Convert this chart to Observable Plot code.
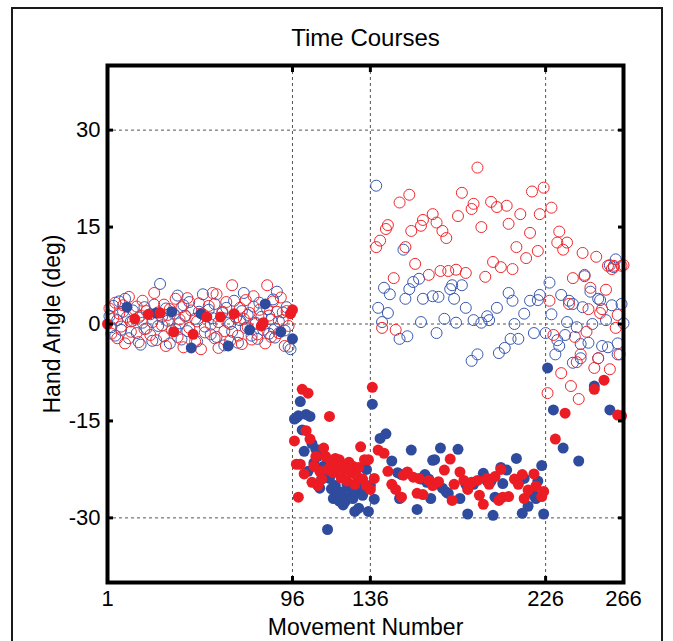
<!DOCTYPE html>
<html>
<head>
<meta charset="utf-8">
<script src="https://cdn.jsdelivr.net/npm/d3@7"></script>
<script src="https://cdn.jsdelivr.net/npm/@observablehq/plot@0.6"></script>
<style>
  html, body { margin: 0; padding: 0; background: #fff; overflow: hidden; }
  #wrap { position: relative; width: 673px; height: 641px; }
  #border { position: absolute; left: 11px; top: 7px; width: 652px; height: 700px; border: 2px solid #1a1a1a; box-sizing: border-box; }
  #chart { position: absolute; left: 0; top: 0; }
  svg { font-family: "Liberation Sans", Arial, Helvetica, sans-serif; }
</style>
</head>
<body>
<div id="wrap"><div id="border"></div><div id="chart"></div></div>
<script>
// ---- tick labels ----
const xTicks = [1, 96, 136, 226, 266];
const yTicks = [-30, -15, 0, 15, 30];
const xGrid = [96, 136, 226];
const yGrid = [-30, 0, 30];

// ---- series: [movement number, hand angle (deg)] ----
const blueOpen = [
  [2,1.2],[3,-0.5],[4,2.8],[5,-1.8],[6,0.6],[7,3.5],[8,-0.9],[9,1.9],[10,3.9],[12,-2.2],[13,0.4],[14,2.1],
  [16,-1.4],[17,1.0],[18,-3.2],[19,0.2],[20,2.6],[21,-0.7],[23,1.5],[24,-2.6],[25,3.0],[27,-0.3],[28,6.2],
  [29,1.1],[30,-1.9],[31,2.4],[32,0.5],[33,-3.0],[35,1.6],[36,-0.8],[37,4.4],[38,0.1],[39,-2.4],[40,2.9],
  [41,1.3],[42,-1.1],[43,3.4],[46,0.8],[47,-2.7],[48,1.9],[50,4.6],[51,-0.4],[53,2.2],[54,-1.6],[55,0.9],
  [56,3.1],[57,-2.0],[58,0.3],[60,1.7],[61,-3.3],[62,2.5],[64,0.0],[65,-1.2],[66,3.6],[67,1.0],[68,-2.9],
  [69,0.6],[70,2.0],[71,4.8],[72,-0.6],[73,1.4],[75,-1.8],[76,2.7],[77,0.2],[78,-2.3],[79,3.3],[80,1.1],
  [81,-0.9],[83,2.3],[84,-1.5],[85,0.7],[86,3.8],[87,-2.1],[88,5.0],[89,0.4],[91,1.8],[92,-1.0],[93,2.6],
  [94,-3.5],[95,-3.9],
  [139,21.4],[140,2.5],[142,0.3],[143,5.6],[145,1.7],[146,4.6],[151,-2.3],[153,11.5],[154,3.9],[155,-1.9],
  [156,5.4],[158,6.5],[161,7.0],[162,0.3],[163,3.9],[168,4.3],[170,-1.4],[171,4.2],[174,0.8],[177,5.4],
  [178,6.0],[179,3.9],[180,0.2],[183,6.0],[185,2.5],[188,-5.7],[189,0.6],[191,-4.7],[193,0.2],[196,1.2],
  [197,0.6],[201,2.5],[202,-4.5],[205,-3.7],[207,4.8],[208,-2.3],[209,3.6],[210,0.0],[212,-2.3],[215,1.6],
  [218,3.6],[220,-1.4],[222,3.7],[223,4.5],[226,-1.4],
  [228,6.4],[229,1.5],[231,-4.7],[232,-2.5],[233,-3.4],[234,4.5],[236,-1.7],[237,0.3],[238,3.6],[240,3.1],
  [240,-6.0],[242,-0.5],[244,-3.1],[244,-5.3],[245,2.6],[246,7.4],[248,-2.9],[249,5.0],[250,0.0],[253,3.9],
  [253,-5.3],[254,3.7],[255,-3.4],[257,0.6],[258,-3.6],[259,9.1],[260,2.9],[261,8.8],[262,10.0],[263,-3.0],
  [263,-4.7],[265,3.1],[266,0.1]
];

const redOpen = [
  [2,2.4],[3,-1.5],[4,0.9],[5,3.3],[6,-2.2],[7,1.6],[8,-0.4],[9,2.9],[10,-3.0],[11,1.1],[12,4.2],[13,-1.2],
  [14,0.5],[16,2.7],[17,-2.8],[18,1.3],[19,3.6],[20,-0.8],[21,2.0],[23,-1.7],[24,0.3],[25,4.8],[26,-2.5],
  [27,1.8],[29,-0.2],[30,3.0],[31,-3.4],[32,1.4],[33,2.3],[34,-1.0],[36,3.9],[37,-2.0],[38,0.7],[39,2.6],
  [40,-3.6],[41,1.2],[42,4.0],[43,-0.6],[44,2.1],[46,-2.7],[47,0.4],[48,3.2],[49,-3.9],[50,1.5],[51,-1.3],
  [53,2.8],[54,-0.1],[55,4.8],[56,-2.2],[57,4.6],[58,-3.7],[60,1.9],[61,-1.1],[62,3.4],[63,0.2],[64,-2.6],
  [65,6.0],[67,1.0],[68,-1.8],[69,2.5],[70,-3.1],[71,0.8],[72,3.7],[73,-0.5],[74,1.7],[75,-2.4],[76,4.3],
  [77,0.0],[78,-1.6],[79,2.2],[82,-3.0],[83,6.0],[84,1.3],[85,-2.0],[86,3.5],[87,-0.7],[88,1.9],[89,-1.4],
  [90,4.1],[91,0.6],[92,-3.4],[93,2.0],[94,-0.3],
  [139,11.9],[141,12.9],[142,-0.6],[144,14.7],[145,15.3],[148,7.1],[149,-0.9],[151,18.8],[154,11.9],
  [156,20.0],[157,14.4],[159,9.3],[162,15.2],[163,16.1],[166,7.6],[168,17.0],[170,15.7],[172,8.2],[173,14.4],
  [175,13.3],[176,8.2],[180,8.4],[181,16.7],[183,20.3],[185,7.9],[188,17.8],[189,18.6],[191,24.2],[193,15.0],
  [195,7.3],[198,18.9],[199,9.6],[201,18.1],[203,8.8],[206,18.3],[207,15.5],[209,8.5],[211,11.9],[213,17.0],
  [216,10.2],[218,14.1],[219,20.5],[222,11.3],[223,17.0],[225,21.1],
  [227,-10.7],[228,3.6],[229,18.0],[230,-1.7],[232,12.6],[233,14.3],[234,-7.6],[235,11.5],[237,12.6],
  [238,3.1],[239,-9.6],[240,7.1],[241,-2.0],[242,-5.9],[243,-11.6],[244,-4.7],[245,11.0],[246,7.6],[247,-1.2],
  [248,2.3],[249,5.6],[251,-6.8],[252,10.4],[253,-5.3],[254,1.7],[255,2.3],[257,5.3],[258,9.0],[259,-7.0],
  [260,8.5],[261,9.0],[262,-0.6],[263,1.4],[264,-4.7],[265,9.0],[266,9.1]
];

const blueFilled = [
  [11,2.6],[26,1.7],[34,1.9],[44,-3.7],[49,1.6],[63,-3.4],[74,-0.9],[82,3.1],[90,-1.2],[96,-2.3],
  [97,-14.7],[98,-14.5],[99,-14.2],[100,-12.0],[101,-16.4],[102,-19.7],[103,-14.0],[104,-22.8],[105,-14.3],
  [106,-18.5],[107,-21.5],[108,-19.4],[109,-20.5],[110,-25.4],[111,-24.0],[112,-22.0],[113,-23.0],[114,-31.8],
  [115,-23.9],[116,-25.5],[117,-27.0],[118,-25.0],[119,-26.5],[120,-27.4],[121,-26.0],[122,-28.0],[123,-27.5],
  [124,-24.8],[125,-26.8],[126,-25.6],[127,-27.0],[128,-29.0],[129,-26.0],[130,-28.5],[131,-24.5],[132,-26.5],
  [133,-25.6],[134,-22.5],[135,-29.0],[136,-25.0],
  [137,-12.4],[138,-27.1],[141,-17.7],[144,-17.0],[147,-21.2],[150,-23.0],[151,-27.0],[152,-23.3],[157,-19.5],
  [160,-28.7],[162,-24.0],[164,-23.3],[165,-24.5],[166,-24.0],[167,-27.0],[168,-21.1],[169,-21.0],[172,-19.2],
  [173,-25.4],[175,-26.0],[176,-26.2],[181,-19.4],[182,-27.0],[185,-24.8],[186,-29.4],[189,-24.8],[194,-23.1],
  [196,-24.3],[198,-24.3],[199,-29.6],[200,-26.8],[203,-22.2],[204,-24.7],[206,-22.6],[211,-20.8],[214,-29.3],
  [215,-23.9],[217,-28.2],[220,-26.5],[221,-27.0],[222,-24.3],[224,-21.9],[225,-29.4],
  [227,-6.8],[230,-13.3],[235,-19.2],[243,-21.2],[251,-9.6],[259,-13.3]
];

const redFilled = [
  [1,0.0],[15,0.8],[22,1.5],[28,1.7],[35,-1.2],[45,-1.6],[52,1.1],[59,1.1],[66,1.6],[80,-0.3],[81,0.2],
  [95,1.6],[96,2.2],
  [97,-18.1],[98,-21.7],[99,-26.8],[100,-21.7],[101,-10.1],[102,-23.2],[103,-16.5],[104,-10.7],[105,-17.8],
  [106,-24.5],[107,-22.0],[108,-20.5],[109,-25.0],[110,-22.8],[111,-24.0],[112,-19.2],[113,-20.5],[114,-22.5],
  [115,-14.3],[116,-21.5],[117,-23.0],[118,-20.8],[119,-22.3],[120,-21.0],[121,-23.8],[122,-21.8],[123,-22.6],
  [124,-24.3],[125,-21.4],[126,-23.0],[127,-22.0],[128,-24.8],[129,-23.5],[130,-22.2],[131,-19.0],[132,-24.0],
  [133,-21.0],[134,-25.0],[135,-21.0],[136,-25.6],
  [137,-9.8],[138,-23.9],[140,-19.5],[143,-20.0],[145,-22.8],[147,-24.8],[149,-25.6],[152,-26.8],[153,-23.4],
  [155,-22.9],[158,-23.7],[160,-26.2],[161,-23.9],[163,-26.4],[166,-24.2],[168,-25.0],[171,-24.4],[174,-22.6],
  [177,-20.9],[178,-27.3],[179,-24.8],[182,-22.9],[184,-24.2],[186,-25.6],[188,-24.5],[191,-24.2],[192,-26.5],
  [194,-27.9],[196,-23.9],[197,-24.8],[200,-23.6],[202,-27.3],[203,-22.5],[204,-26.8],[207,-26.7],[210,-24.0],
  [212,-24.8],[214,-23.3],[215,-27.0],[217,-25.7],[220,-23.2],[221,-25.1],[224,-26.7],[225,-25.9],
  [231,-17.8],[236,-13.8],[251,-10.1],[256,-8.7],[263,-14.1],[265,-14.2]
];

const colors = { blue: "#2f4b9e", red: "#ec1c24", blueRing: "#3a58b0", redRing: "#f0282e" };
const fontFamily = '"Liberation Sans", Arial, Helvetica, sans-serif';

const chart = Plot.plot({
  width: 673,
  height: 641,
  marginLeft: 107,
  marginRight: 50,
  marginTop: 65,
  marginBottom: 59,
  style: { fontFamily, background: "transparent", color: "#000" },
  x: { domain: [1, 266], ticks: xTicks },
  y: { domain: [-40, 40], ticks: yTicks },
  marks: [
    Plot.ruleX(xGrid, { stroke: "#555", strokeWidth: 1, strokeDasharray: "3,3" }),
    Plot.ruleY(yGrid, { stroke: "#555", strokeWidth: 1, strokeDasharray: "3,3" }),
    Plot.dot(blueOpen, { x: d => d[0], y: d => d[1], r: 5.5, stroke: colors.blueRing, strokeWidth: 1, fill: "none" }),
    Plot.dot(redOpen, { x: d => d[0], y: d => d[1], r: 5.5, stroke: colors.redRing, strokeWidth: 1, fill: "none" }),
    Plot.dot(blueFilled, { x: d => d[0], y: d => d[1], r: 5.5, fill: colors.blue, stroke: "none" }),
    Plot.dot(redFilled, { x: d => d[0], y: d => d[1], r: 5.5, fill: colors.red, stroke: "none" }),
    Plot.frame({ stroke: "#000", strokeWidth: 4 }),
    // inward tick marks
    Plot.axisX({ anchor: "bottom", ticks: xTicks, tickSize: -6, strokeWidth: 3, tickFormat: () => "", label: null }),
    Plot.axisX({ anchor: "top", ticks: xTicks, tickSize: -6, strokeWidth: 3, tickFormat: () => "", label: null }),
    Plot.axisY({ anchor: "left", ticks: yTicks, tickSize: -6, strokeWidth: 3, tickFormat: () => "", label: null }),
    Plot.axisY({ anchor: "right", ticks: yTicks, tickSize: -6, strokeWidth: 3, tickFormat: () => "", label: null }),
    // tick labels
    Plot.axisX({ anchor: "bottom", ticks: xTicks, tickSize: 0, tickPadding: 8, fontSize: 22, tickFormat: d => String(d), label: null }),
    Plot.axisY({ anchor: "left", ticks: yTicks, tickSize: 0, tickPadding: 7, fontSize: 22, tickFormat: d => String(d), label: null }),
    // titles
    Plot.text(["Time Courses"], { frameAnchor: "top", dy: -27, fontSize: 24, lineAnchor: "middle", textAnchor: "middle", fill: "#000" }),
    Plot.text(["Movement Number"], { frameAnchor: "bottom", dy: 45, fontSize: 23, lineAnchor: "middle", textAnchor: "middle", fill: "#000" }),
    Plot.text(["Hand Angle (deg)"], { frameAnchor: "left", dx: -55, rotate: -90, fontSize: 23, lineAnchor: "middle", textAnchor: "middle", fill: "#000" })
  ]
});
document.getElementById("chart").appendChild(chart);
</script>
</body>
</html>
